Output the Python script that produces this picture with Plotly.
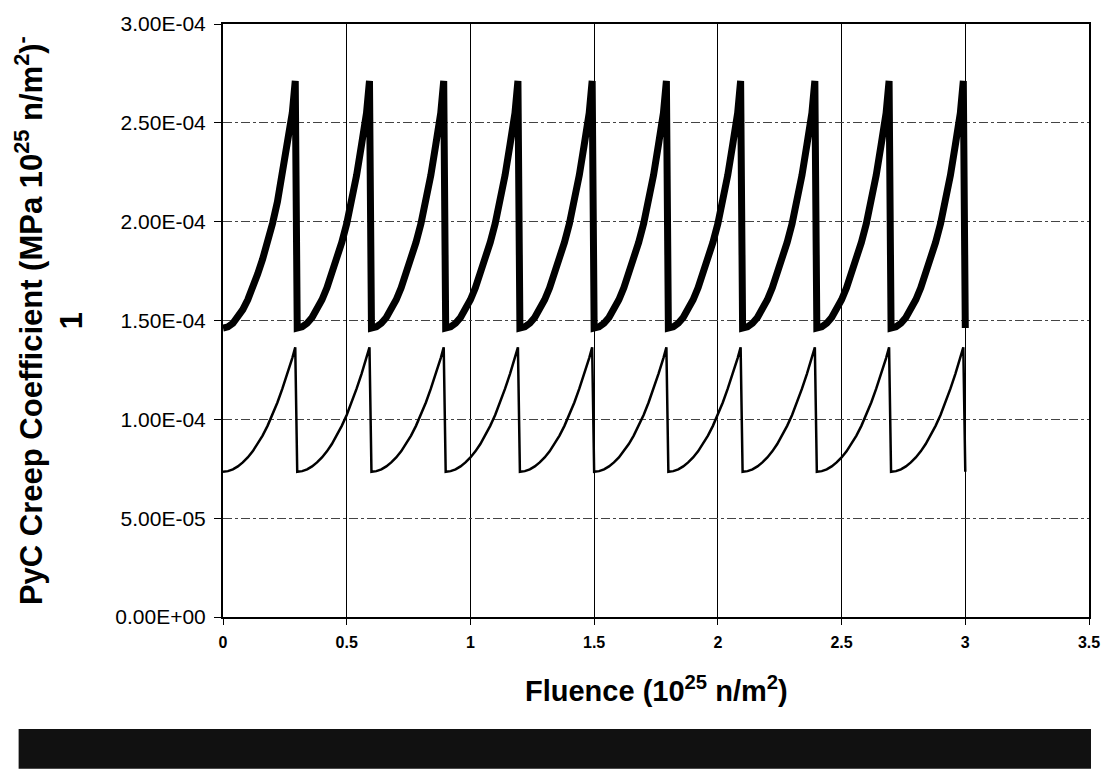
import plotly.graph_objects as go

# Cycle start fluences (10^25 n/m^2)
cycle_starts = [0.0, 0.3, 0.6, 0.9, 1.2, 1.5, 1.8, 2.1, 2.4, 2.7]
end_fluence = 3.0

# Fluence offsets within one cycle, and creep coefficient (1e-5 units)
offsets = [0.0, 0.02, 0.04, 0.06, 0.08, 0.10, 0.12, 0.14, 0.16, 0.18,
           0.20, 0.22, 0.24, 0.26, 0.28, 0.292]
thin_profile = [7.35, 7.38, 7.47, 7.62, 7.82, 8.07, 8.38, 8.75, 9.18, 9.67,
                10.22, 10.85, 11.55, 12.3, 13.1, 13.64]
thick_profile = [14.62, 14.68, 14.86, 15.15, 15.55, 16.05, 16.65, 17.35, 18.10, 18.95,
                 19.90, 21.00, 22.35, 23.90, 25.50, 27.12]

x_ticks = [0, 0.5, 1, 1.5, 2, 2.5, 3, 3.5]
y_ticks = [0, 5e-5, 1e-4, 1.5e-4, 2e-4, 2.5e-4, 3e-4]
y_tick_labels = ["0.00E+00", "5.00E-05", "1.00E-04", "1.50E-04", "2.00E-04", "2.50E-04", "3.00E-04"]


def build(profile):
    xs, ys = [], []
    for s in cycle_starts:
        for o, v in zip(offsets, profile):
            xs.append(round(s + o, 4))
            ys.append(v * 1e-5)
    xs.append(end_fluence)
    ys.append(profile[0] * 1e-5)
    return xs, ys


fig = go.Figure()
tx, ty = build(thick_profile)
fig.add_trace(go.Scatter(x=tx, y=ty, mode="lines", line=dict(color="black", width=7),
                         showlegend=False))
nx, ny = build(thin_profile)
fig.add_trace(go.Scatter(x=nx, y=ny, mode="lines", line=dict(color="black", width=2.5),
                         showlegend=False))

font_family = "Arial, Liberation Sans, sans-serif"

fig.update_layout(
    width=1112, height=770,
    margin=dict(l=223, r=20, t=19, b=153),
    paper_bgcolor="white", plot_bgcolor="white",
    font=dict(family=font_family, color="black"),
    xaxis=dict(
        range=[0, 3.5], tickvals=x_ticks, ticktext=[str(v) for v in x_ticks],
        showgrid=True, gridcolor="black", gridwidth=1,
        showline=True, linecolor="black", linewidth=2, mirror=True,
        ticks="outside", ticklen=6, tickcolor="black",
        tickfont=dict(size=16, family=font_family, weight="bold"),
        ticklabelstandoff=4,
        zeroline=False,
    ),
    yaxis=dict(
        range=[0, 3e-4], tickvals=y_ticks, ticktext=y_tick_labels,
        showgrid=True, gridcolor="#444", gridwidth=1, griddash="dashdot",
        showline=True, linecolor="black", linewidth=2, mirror=True,
        ticks="outside", ticklen=7, tickcolor="black",
        tickfont=dict(size=21, family=font_family),
        ticklabelstandoff=4,
        zeroline=False,
    ),
    annotations=[
        dict(text="Fluence (10<sup>25</sup> n/m<sup>2</sup>)",
             xref="paper", yref="paper", x=0.5, y=-0.122,
             xanchor="center", yanchor="middle", showarrow=False,
             font=dict(size=29, family=font_family, weight="bold", color="black")),
        dict(text="PyC Creep Coefficient (MPa 10<sup>25</sup> n/m<sup>2</sup>)<sup>-</sup><br>1",
             xref="paper", yref="paper", x=-0.2014, y=0.5,
             xanchor="center", yanchor="middle", textangle=-90, showarrow=False,
             font=dict(size=31, family=font_family, weight="bold", color="black")),
    ],
    shapes=[dict(type="rect", xref="paper", yref="paper",
                 x0=-0.236, x1=1.0023, y0=-0.256, y1=-0.189,
                 fillcolor="#111111", line=dict(width=0), layer="above")],
)

fig.write_html("out.html")
